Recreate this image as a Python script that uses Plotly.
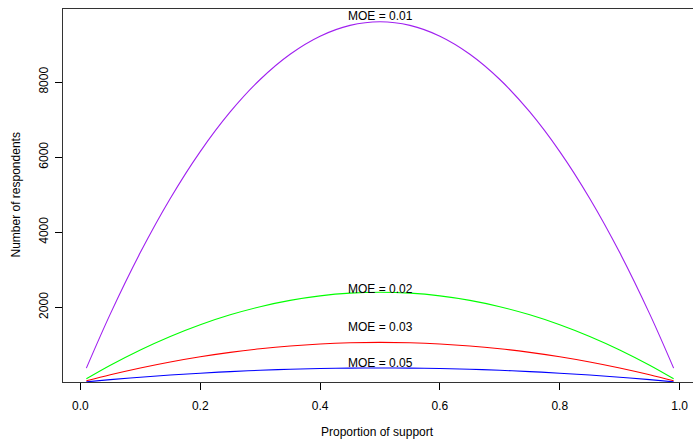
import plotly.graph_objects as go

proportion = [0.01, 0.05, 0.10, 0.15, 0.20, 0.25, 0.30, 0.35, 0.40, 0.45, 0.50,
              0.55, 0.60, 0.65, 0.70, 0.75, 0.80, 0.85, 0.90, 0.95, 0.99]
n_moe_01 = [380, 1825, 3457, 4898, 6147, 7203, 8067, 8740, 9220, 9508, 9604,
            9508, 9220, 8740, 8067, 7203, 6147, 4898, 3457, 1825, 380]
n_moe_02 = [95, 456, 864, 1224, 1537, 1801, 2017, 2185, 2305, 2377, 2401,
            2377, 2305, 2185, 2017, 1801, 1537, 1224, 864, 456, 95]
n_moe_03 = [42, 203, 384, 544, 683, 800, 896, 971, 1024, 1056, 1067,
            1056, 1024, 971, 896, 800, 683, 544, 384, 203, 42]
n_moe_05 = [15, 73, 138, 196, 246, 288, 323, 350, 369, 380, 384,
            380, 369, 350, 323, 288, 246, 196, 138, 73, 15]

series_names = ["MOE = 0.01", "MOE = 0.02", "MOE = 0.03", "MOE = 0.05"]
series_values = [n_moe_01, n_moe_02, n_moe_03, n_moe_05]
series_colors = ["#A020F0", "#00FF00", "#FF0000", "#0000FF"]
label_x = [0.5, 0.5, 0.5, 0.5]
label_y = [9750, 2500, 1470, 510]

x_ticks = [0.0, 0.2, 0.4, 0.6, 0.8, 1.0]
x_tick_text = ["0.0", "0.2", "0.4", "0.6", "0.8", "1.0"]
y_ticks = [2000, 4000, 6000, 8000]
y_tick_text = ["2000", "4000", "6000", "8000"]

FONT = "Liberation Sans, Arial, Helvetica, sans-serif"

fig = go.Figure()
for name, vals, col in zip(series_names, series_values, series_colors):
    fig.add_trace(go.Scatter(x=proportion, y=vals, mode="lines", name=name,
                             line=dict(color=col, width=1.1, shape="spline"),
                             showlegend=False, hoverinfo="skip"))

for name, lx, ly in zip(series_names, label_x, label_y):
    fig.add_annotation(x=lx, y=ly, xref="x", yref="y", text=name, showarrow=False,
                       font=dict(family=FONT, size=12, color="black"),
                       xanchor="center", yanchor="middle")

fig.add_annotation(x=0.5, y=0, xref="paper", yref="paper", text="Proportion of support",
                   showarrow=False, xanchor="center", yanchor="middle", yshift=-50,
                   xshift=-3,
                   font=dict(family=FONT, size=12, color="black"))
fig.add_annotation(x=0, y=0.5, xref="paper", yref="paper", text="Number of respondents",
                   showarrow=False, xanchor="center", yanchor="middle", xshift=-48,
                   textangle=-90,
                   font=dict(family=FONT, size=12, color="black"))

fig.update_xaxes(range=[-0.029, 1.029], tickmode="array", tickvals=x_ticks,
                 ticktext=x_tick_text, ticks="outside", ticklen=7, tickcolor="black",
                 ticklabelstandoff=6,
                 showline=True, linecolor="#333333", linewidth=1, mirror=True,
                 showgrid=False, zeroline=False,
                 tickfont=dict(family=FONT, size=12, color="black"))
fig.update_yaxes(range=[11, 9945], tickmode="array", tickvals=y_ticks,
                 ticktext=y_tick_text, ticks="outside", ticklen=7, tickcolor="black",
                 tickangle=-90, ticklabelstandoff=2,
                 showline=True, linecolor="#333333", linewidth=1, mirror=True,
                 showgrid=False, zeroline=False,
                 tickfont=dict(family=FONT, size=12, color="black"))

fig.update_layout(width=697, height=439,
                  margin=dict(l=63, r=0, t=9, b=57),
                  plot_bgcolor="white", paper_bgcolor="white",
                  font=dict(family=FONT, size=12, color="black"))

fig.write_html("out.html")
